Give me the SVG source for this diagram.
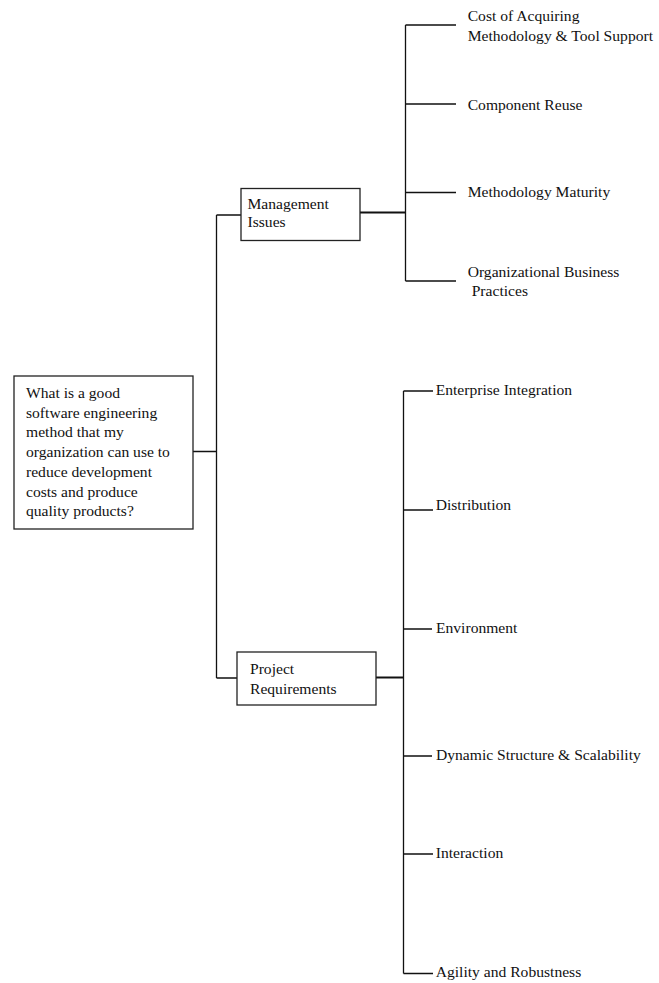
<svg xmlns="http://www.w3.org/2000/svg" width="659" height="983" viewBox="0 0 659 983">
<style>
text{font-family:"Liberation Serif","Times New Roman",serif;font-size:15.6px;fill:#111}
.box{fill:#fff;stroke:#222;stroke-width:1.3}
.ln{fill:none;stroke:#111;stroke-width:1.3}
.thk{fill:none;stroke:#111;stroke-width:2}
</style>
<rect width="659" height="983" fill="#fff"/>
<g id="connectors">
<path class="ln" d="M193,451.5 H216.5 M216.5,215 V678 M216.5,215 H241 M216.5,678 H237"/>
<path class="thk" d="M357,212.5 H405.5"/>
<path class="ln" d="M405.5,25 V281 M405.5,25 H456 M405.5,104 H456 M405.5,192.5 H456 M405.5,281 H456"/>
<path class="thk" d="M373,677.5 H403.5"/>
<path class="ln" d="M403.5,391 V973.5 M403.5,391 H433 M403.5,510 H433 M403.5,629 H432 M403.5,756 H432 M403.5,854 H433 M403.5,973.5 H433"/>
</g>
<g id="root">
<rect class="box" x="14" y="376" width="179" height="153"/>
<text x="26" y="398">What is a good</text>
<text x="26" y="417.7">software engineering</text>
<text x="26" y="437.4">method that my</text>
<text x="26" y="457.1">organization can use to</text>
<text x="26" y="476.8">reduce development</text>
<text x="26" y="496.5">costs and produce</text>
<text x="26" y="516.2">quality products?</text>
</g>
<g id="management">
<rect class="box" x="241" y="188.5" width="119" height="52"/>
<text x="247.5" y="208.5">Management</text>
<text x="247.5" y="226.5">Issues</text>
</g>
<g id="project">
<rect class="box" x="237" y="652" width="139" height="53"/>
<text x="250" y="674">Project</text>
<text x="250" y="693.5">Requirements</text>
</g>
<g id="cost">
<text x="467.7" y="20.7">Cost of Acquiring</text>
<text x="467.7" y="40.7">Methodology &amp; Tool Support</text>
</g>
<g id="reuse"><text x="467.7" y="110">Component Reuse</text></g>
<g id="maturity"><text x="467.7" y="197.3">Methodology Maturity</text></g>
<g id="practices">
<text x="467.7" y="276.7">Organizational Business</text>
<text x="471.7" y="296">Practices</text>
</g>
<g id="enterprise"><text x="435.7" y="395">Enterprise Integration</text></g>
<g id="distribution"><text x="435.7" y="509.5">Distribution</text></g>
<g id="environment"><text x="436" y="633.3">Environment</text></g>
<g id="dynamic"><text x="436" y="760">Dynamic Structure &amp; Scalability</text></g>
<g id="interaction"><text x="435.7" y="858.3">Interaction</text></g>
<g id="agility"><text x="435.7" y="977.3">Agility and Robustness</text></g>
</svg>
